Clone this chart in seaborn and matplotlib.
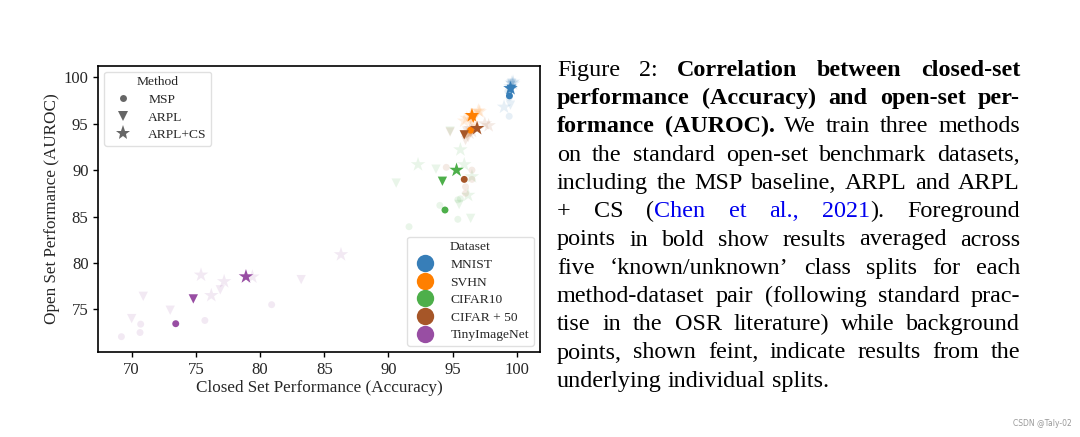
"""
Closed-set vs open-set performance scatter (MSP / ARPL / ARPL+CS)
with the figure caption set next to it, justified line by line.
"""

import re

import matplotlib
matplotlib.use('Agg')
import matplotlib.pyplot as plt
import pandas as pd
import seaborn as sns

# Datasets / methods
DATASETS = ['MNIST', 'SVHN', 'CIFAR10', 'CIFAR + 50', 'TinyImageNet']
METHODS = ['MSP', 'ARPL', 'ARPL+CS']
N_SPLITS = 5

# Per-split results, 5 splits each: MSP, then ARPL, then ARPL+CS
mnist_acc = [99.5, 99.4, 99.5, 99.3, 99.4,
             99.6, 99.5, 99.6, 99.5, 99.6,
             99.7, 99.6, 99.0, 99.7, 99.5]
mnist_auroc = [99.0, 95.8, 98.9, 98.5, 97.8,
               99.3, 99.1, 99.4, 97.0, 98.7,
               99.5, 99.4, 96.8, 99.3, 99.0]

svhn_acc = [96.0, 96.8, 96.3, 96.6, 96.3,
            96.3, 96.9, 96.5, 96.8, 96.5,
            96.1, 97.0, 96.4, 97.1, 95.9]
svhn_auroc = [93.8, 94.9, 94.0, 94.6, 94.2,
              95.2, 96.1, 95.5, 95.9, 95.3,
              95.6, 96.4, 95.9, 96.3, 95.3]

cifar10_acc = [91.6, 94.0, 95.4, 95.4, 95.6,
               90.6, 93.7, 95.5, 94.8, 96.4,
               92.3, 95.6, 95.9, 96.2, 96.5]
cifar10_auroc = [83.9, 86.2, 86.8, 84.7, 86.9,
                 88.6, 90.1, 86.3, 94.2, 84.8,
                 90.6, 92.2, 90.6, 87.3, 89.3]

cifar50_acc = [94.5, 96.0, 96.5, 96.5, 96.0,
               94.8, 96.2, 96.4, 96.0, 96.1,
               96.3, 97.5, 97.8, 96.5, 96.4]
cifar50_auroc = [90.3, 88.2, 90.0, 89.0, 87.5,
                 94.1, 93.5, 94.0, 93.2, 94.2,
                 94.0, 95.0, 94.8, 94.2, 94.5]

tin_acc = [69.2, 70.7, 70.65, 75.7, 80.9,
           70.0, 70.9, 73.0, 76.9, 83.2,
           75.4, 76.2, 77.2, 86.3, 79.4]
tin_auroc = [72.05, 73.4, 72.5, 73.8, 75.5,
             74.0, 76.4, 74.9, 77.1, 78.2,
             78.7, 76.5, 78.0, 80.9, 78.5]

# Caption text; ** toggles bold, @@ toggles citation colour
CAPTION = [
    "Figure 2: **Correlation between closed-set",
    "performance (Accuracy) and open-set per-",
    "formance (AUROC).** We train three methods",
    "on the standard open-set benchmark datasets,",
    "including the MSP baseline, ARPL and ARPL",
    "+ CS (@@Chen et al., 2021@@). Foreground",
    "points in bold show results averaged across",
    "five \u2018known/unknown\u2019 class splits for each",
    "method-dataset pair (following standard prac-",
    "tise in the OSR literature) while background",
    "points, shown feint, indicate results from the",
    "underlying individual splits.",
]

PALETTE = {
    'MNIST': '#377eb8',
    'SVHN': '#ff7f00',
    'CIFAR10': '#4daf4a',
    'CIFAR + 50': '#a65628',
    'TinyImageNet': '#984ea3',
}
MARKERS = {'MSP': 'o', 'ARPL': 'v', 'ARPL+CS': '*'}
SIZES = {'MSP': 25, 'ARPL': 45, 'ARPL+CS': 120}

W, H = 1080, 437


def build_frame():
    accs = [mnist_acc, svhn_acc, cifar10_acc, cifar50_acc, tin_acc]
    aurocs = [mnist_auroc, svhn_auroc, cifar10_auroc, cifar50_auroc, tin_auroc]
    rows = []
    for name, acc, auroc in zip(DATASETS, accs, aurocs):
        for k in range(len(acc)):
            rows.append({'Dataset': name, 'Method': METHODS[k // N_SPLITS],
                         'Accuracy': acc[k], 'AUROC': auroc[k]})
    return pd.DataFrame(rows)


def plot_scatter(ax, df):
    means = df.groupby(['Dataset', 'Method'], sort=False)[['Accuracy', 'AUROC']].mean().reset_index()

    common = dict(x='Accuracy', y='AUROC', hue='Dataset', style='Method', size='Method',
                  palette=PALETTE, markers=MARKERS, sizes=SIZES,
                  hue_order=DATASETS, style_order=METHODS, size_order=METHODS,
                  linewidth=0, ax=ax)
    # faint individual splits
    sns.scatterplot(data=df, alpha=0.12, legend=False, **common)
    # bold averages
    sns.scatterplot(data=means, alpha=1.0, legend='full', **common)

    ax.set_xlim(67.4, 101.8)
    ax.set_ylim(70.4, 101.25)
    ax.set_xticks([70, 75, 80, 85, 90, 95, 100])
    ax.set_yticks([75, 80, 85, 90, 95, 100])
    ax.tick_params(labelsize=12, length=3.5, width=1.0, color='black')
    ax.set_xlabel('Closed Set Performance (Accuracy)', fontsize=12.3, labelpad=2)
    ax.set_ylabel('Open Set Performance (AUROC)', fontsize=12.3, labelpad=3)
    for sp in ax.spines.values():
        sp.set_visible(True)
        sp.set_color('black')
        sp.set_linewidth(1.2)

    # split seaborn's combined legend into two boxes
    handles, labels = ax.get_legend_handles_labels()
    ax.get_legend().remove()
    i_ds = labels.index('Dataset')
    i_m = labels.index('Method')
    ds_h, ds_l = handles[i_ds + 1:i_m], labels[i_ds + 1:i_m]
    m_h, m_l = handles[i_m + 1:], labels[i_m + 1:]

    for h in ds_h:
        if hasattr(h, 'set_markersize'):
            h.set_markersize(12.5)
        else:
            h.set_sizes([155])
    # method entries in a mid grey like the original
    for h in m_h:
        if hasattr(h, 'set_markerfacecolor'):
            h.set_markerfacecolor('0.4')
            h.set_markeredgecolor('0.4')
            h.set_color('0.4')
        else:
            h.set_facecolor('0.4')

    leg_kw = dict(fontsize=9.7, title_fontsize=9.7, frameon=True, edgecolor='0.85',
                  framealpha=0.8, borderpad=0.35, labelspacing=0.38, handletextpad=0.9)
    leg_m = ax.legend(m_h, m_l, title='Method', loc='upper left',
                      borderaxespad=0.45, **leg_kw)
    ax.add_artist(leg_m)
    ax.legend(ds_h, ds_l, title='Dataset', loc='lower right',
              borderaxespad=0.45, **leg_kw)


def parse_words(line, state):
    """Split a caption line into words -> list of (segment, bold, blue)."""
    words = []
    for w in line.split(' '):
        segs = []
        for part in re.split(r'(\*\*|@@)', w):
            if part == '**':
                state['bold'] = not state['bold']
            elif part == '@@':
                state['blue'] = not state['blue']
            elif part:
                segs.append((part, state['bold'], state['blue']))
        if segs:
            words.append(segs)
    return words


def draw_caption(fig):
    renderer = fig.canvas.get_renderer()
    fs = 17.4
    x0, x1 = 557, 1020
    base0, step = 76, 28.25

    def make(txt, bold=False, blue=False):
        return fig.text(0, 0, txt, fontsize=fs, va='baseline', ha='left',
                        fontweight='bold' if bold else 'normal',
                        color='#0000ee' if blue else 'black')

    def width(t):
        return t.get_window_extent(renderer).width

    a, b = make('x x'), make('xx')
    space = width(a) - width(b)
    a.remove()
    b.remove()

    state = {'bold': False, 'blue': False}
    for i, line in enumerate(CAPTION):
        words = parse_words(line, state)
        arts = [[make(s, bo, bl) for s, bo, bl in w] for w in words]
        widths = [sum(width(t) for t in w) for w in arts]
        last = i == len(CAPTION) - 1
        if last or len(arts) < 2:
            gap = space
        else:
            gap = (x1 - x0 - sum(widths)) / (len(arts) - 1)
        x = x0
        y = 1 - (base0 + step * i) / H
        for w, ww in zip(arts, widths):
            xs = x
            for t in w:
                t.set_position((xs / W, y))
                xs += width(t)
            x += ww + gap


def main():
    sns.set_style('ticks')
    plt.rcParams['font.family'] = ['Liberation Serif', 'DejaVu Serif']
    plt.rcParams['axes.linewidth'] = 1.2

    df = build_frame()

    fig = plt.figure(figsize=(W / 100, H / 100), dpi=100)
    ax = fig.add_axes([98.3 / W, 1 - 352 / H, (540 - 98.3) / W, (352 - 65.7) / H])
    plot_scatter(ax, df)

    draw_caption(fig)

    fig.text(1072 / W, 1 - 424 / H, 'CSDN @Taly-02', fontsize=5.5, color='0.6',
             ha='right', va='center', family=['DejaVu Sans'])

    fig.savefig('out.png', dpi=100)


if __name__ == '__main__':
    main()
